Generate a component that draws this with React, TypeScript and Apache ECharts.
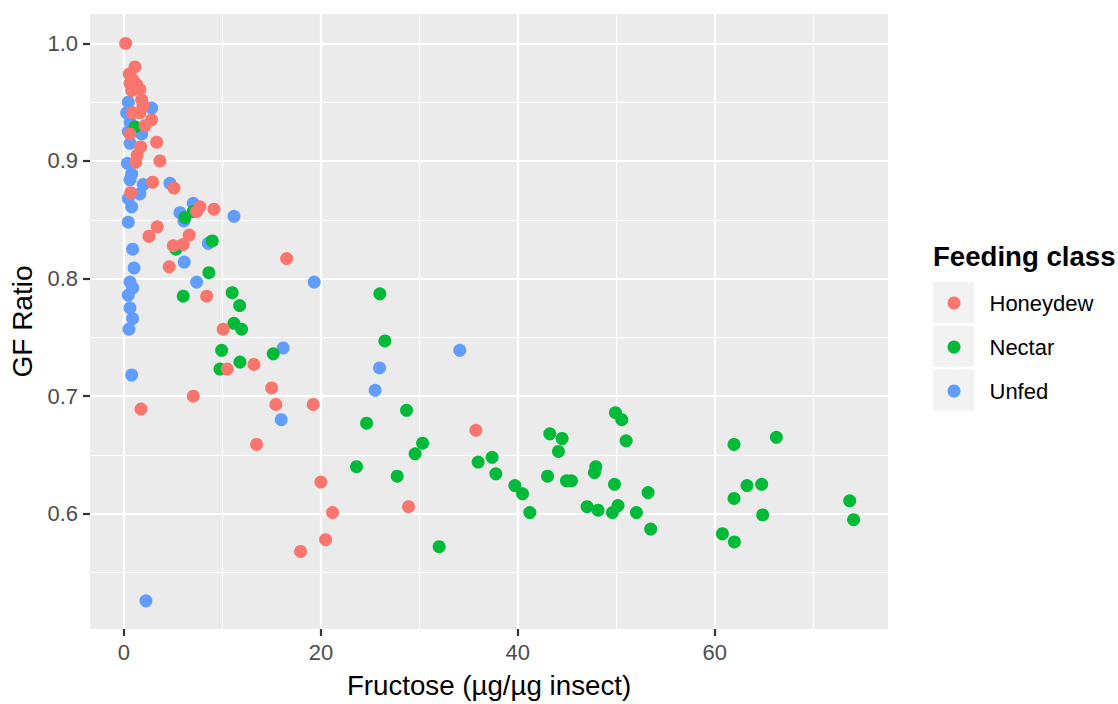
import React, { useEffect, useRef } from "react";
import * as echarts from "echarts";

// Feeding class groups: [Fructose (µg/µg insect), GF Ratio]
const honeydew: number[][] = [
  [0.17, 1.0], [1.12, 0.98], [0.54, 0.974], [0.91, 0.969], [0.61, 0.966], [1.29, 0.965],
  [1.62, 0.961], [0.78, 0.96], [1.8, 0.952], [1.93, 0.947], [0.88, 0.941], [1.62, 0.941],
  [2.81, 0.935], [2.13, 0.93], [0.61, 0.923], [3.32, 0.916], [1.7, 0.912], [1.35, 0.905],
  [1.19, 0.899], [3.65, 0.9], [2.91, 0.882], [5.08, 0.877], [0.68, 0.873], [7.72, 0.861],
  [9.14, 0.859], [7.38, 0.857], [3.38, 0.844], [2.54, 0.836], [6.63, 0.837], [5.01, 0.828],
  [6.02, 0.829], [4.6, 0.81], [16.52, 0.817], [8.4, 0.785], [10.08, 0.757], [13.2, 0.727],
  [10.49, 0.723], [7.04, 0.7], [1.73, 0.689], [15.0, 0.707], [15.43, 0.693], [19.22, 0.693],
  [13.47, 0.659], [20.0, 0.627], [21.19, 0.601], [20.48, 0.578], [17.94, 0.568], [28.9, 0.606],
  [35.74, 0.671],
];

const nectar: number[][] = [
  [1.12, 0.929], [6.19, 0.852], [7.04, 0.857], [8.96, 0.832], [5.28, 0.825], [8.63, 0.805],
  [6.02, 0.785], [10.99, 0.788], [11.75, 0.777], [11.17, 0.762], [11.95, 0.757], [9.92, 0.739],
  [11.78, 0.729], [9.75, 0.723], [15.16, 0.736], [25.99, 0.787], [26.5, 0.747], [28.7, 0.688],
  [24.64, 0.677], [30.33, 0.66], [29.57, 0.651], [23.62, 0.64], [27.75, 0.632], [32.01, 0.572],
  [35.97, 0.644], [37.39, 0.648], [37.77, 0.634], [39.7, 0.624], [40.48, 0.617], [41.22, 0.601],
  [49.92, 0.686], [50.56, 0.68], [51.0, 0.662], [43.25, 0.668], [44.5, 0.664], [44.13, 0.653],
  [47.92, 0.64], [47.79, 0.635], [43.02, 0.632], [44.94, 0.628], [45.45, 0.628], [49.82, 0.625],
  [53.23, 0.618], [47.04, 0.606], [48.15, 0.603], [49.61, 0.601], [50.18, 0.607], [52.05, 0.601],
  [53.5, 0.587], [61.96, 0.659], [66.26, 0.665], [63.28, 0.624], [64.77, 0.625], [61.96, 0.613],
  [64.87, 0.599], [60.78, 0.583], [62.0, 0.576], [73.71, 0.611], [74.11, 0.595],
];

const unfed: number[][] = [
  [0.44, 0.95], [2.81, 0.945], [0.27, 0.941], [0.61, 0.933], [0.44, 0.925], [1.8, 0.923],
  [0.61, 0.915], [0.34, 0.898], [0.78, 0.889], [0.61, 0.884], [1.96, 0.88], [4.67, 0.881],
  [1.62, 0.872], [0.44, 0.868], [0.78, 0.861], [5.69, 0.856], [7.04, 0.864], [11.17, 0.853],
  [0.44, 0.848], [6.09, 0.849], [0.88, 0.825], [1.02, 0.809], [8.56, 0.83], [6.12, 0.814],
  [0.61, 0.797], [0.88, 0.792], [0.44, 0.786], [0.61, 0.775], [0.88, 0.766], [0.51, 0.757],
  [7.38, 0.797], [0.78, 0.718], [19.32, 0.797], [16.17, 0.741], [25.51, 0.705], [15.97, 0.68],
  [34.11, 0.739], [25.96, 0.724], [2.23, 0.526],
];

const groupNames = ["Honeydew", "Nectar", "Unfed"];
const groupColors = ["#F8766D", "#00BA38", "#619CFF"];

const xTicks = [0, 20, 40, 60];
const xMinor = [10, 30, 50, 70];
const yTicks = [0.6, 0.7, 0.8, 0.9, 1.0];
const yMinor = [0.55, 0.65, 0.75, 0.85, 0.95];

const FONT = "'Liberation Sans', Arial, sans-serif";

export default function App() {
  const ref = useRef<HTMLDivElement>(null);

  useEffect(() => {
    if (!ref.current) return;
    const chart = echarts.init(ref.current, null, { renderer: "svg" });

    const major = { type: "solid", color: "#FFFFFF", width: 2.2 };
    const minor = { type: "solid", color: "#FFFFFF", width: 1.1 };
    const gridLines: any[] = [
      ...xMinor.map((v) => ({ xAxis: v, lineStyle: minor })),
      ...yMinor.map((v) => ({ yAxis: v, lineStyle: minor })),
      ...xTicks.map((v) => ({ xAxis: v, lineStyle: major })),
      ...yTicks.map((v) => ({ yAxis: v, lineStyle: major })),
    ];

    const groups = [honeydew, nectar, unfed];
    // draw order: Unfed below, then Nectar, then Honeydew on top
    const drawOrder = [2, 1, 0];
    const scatterSeries = drawOrder.map((gi, k) => ({
      name: groupNames[gi],
      type: "scatter",
      data: groups[gi],
      symbol: "circle",
      symbolSize: 13,
      z: 3 + k,
      itemStyle: { color: groupColors[gi], opacity: 1 },
      emphasis: { disabled: true },
    }));

    chart.setOption({
      animation: false,
      backgroundColor: "#FFFFFF",
      textStyle: { fontFamily: FONT },
      grid: {
        left: 90,
        right: 230,
        top: 14,
        bottom: 68,
        show: true,
        backgroundColor: "#EBEBEB",
        borderWidth: 0,
        containLabel: false,
      },
      xAxis: {
        type: "value",
        min: -3.45,
        max: 77.6,
        name: "Fructose (µg/µg insect)",
        nameLocation: "middle",
        nameGap: 42,
        nameTextStyle: { fontSize: 27.7, color: "#000000", fontFamily: FONT },
        axisLine: { show: false, onZero: false },
        splitLine: { show: false },
        axisTick: {
          show: true,
          customValues: xTicks,
          length: 7,
          lineStyle: { color: "#333333", width: 2.2 },
        },
        axisLabel: {
          show: true,
          customValues: xTicks,
          margin: 12,
          fontSize: 22,
          color: "#4D4D4D",
          fontFamily: FONT,
          formatter: (v: number) => String(v),
        },
      },
      yAxis: {
        type: "value",
        min: 0.502,
        max: 1.025,
        name: "GF Ratio",
        nameLocation: "middle",
        nameGap: 52,
        nameTextStyle: { fontSize: 28, color: "#000000", fontFamily: FONT },
        axisLine: { show: false, onZero: false },
        splitLine: { show: false },
        axisTick: {
          show: true,
          customValues: yTicks,
          length: 7,
          lineStyle: { color: "#333333", width: 2.2 },
        },
        axisLabel: {
          show: true,
          customValues: yTicks,
          margin: 12,
          fontSize: 22,
          color: "#4D4D4D",
          fontFamily: FONT,
          formatter: (v: number) => v.toFixed(1),
        },
      },
      legend: {
        data: groupNames,
        orient: "vertical",
        left: 942.5,
        top: 285,
        itemWidth: 61,
        itemHeight: 13,
        itemGap: 18,
        icon: "circle",
        selectedMode: false,
        textStyle: { fontSize: 22, lineHeight: 26, color: "#000000", fontFamily: FONT },
      },
      graphic: [
        {
          type: "text",
          left: 933,
          top: 242,
          z: 0,
          style: {
            text: "Feeding class",
            font: `bold 27.6px ${FONT}`,
            fill: "#000000",
          },
        },
        ...[282, 325.7, 369.4].map((y) => ({
          type: "rect",
          shape: { x: 933, y, width: 41, height: 41 },
          z: 0,
          style: { fill: "#F2F2F2" },
        })),
      ],
      series: [
        {
          type: "scatter",
          data: [],
          z: 1,
          silent: true,
          markLine: {
            silent: true,
            z: 1,
            symbol: ["none", "none"],
            label: { show: false },
            emphasis: { disabled: true },
            animation: false,
            data: gridLines,
          },
        },
        ...scatterSeries,
      ],
    });

    return () => chart.dispose();
  }, []);

  return (
    <div
      ref={ref}
      style={{ position: "fixed", left: 0, top: 0, width: 1118, height: 704 }}
    />
  );
}
